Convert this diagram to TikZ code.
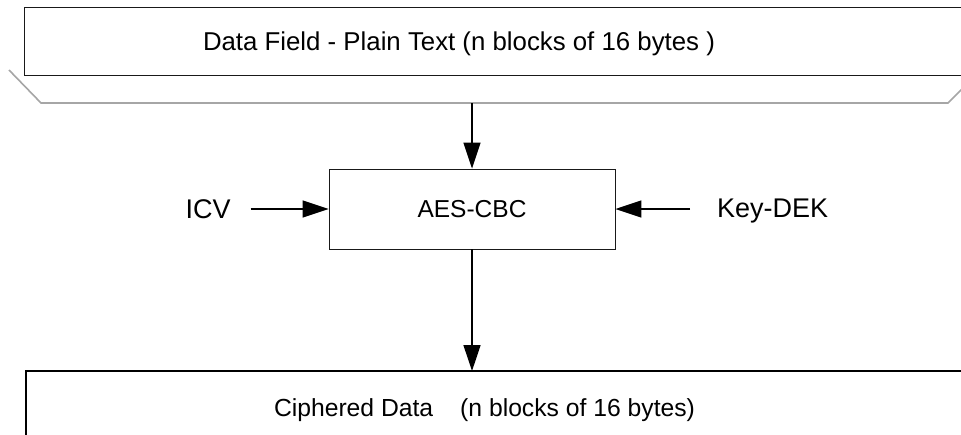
\documentclass[tikz,border=0pt]{standalone}
\usepackage{fontspec}
\setmainfont{Liberation Sans}
\usetikzlibrary{arrows.meta}
\begin{document}
\begin{tikzpicture}[x=1pt,y=-1pt,
  lbl/.style={inner sep=0pt, outer sep=0pt},
  arr/.style={line width=1.3pt, -{Triangle[length=26pt,width=17pt]}},
  boxline/.style={line width=1pt, draw=black!90},
  shade3d/.style={line width=1.6pt, draw=black!35},
  procbox/.style={draw=black!90, line width=0.9pt, minimum width=286pt, minimum height=80pt, inner sep=0pt}]
\useasboundingbox (0,0) rectangle (961,434);
\clip (0,0) rectangle (961,434);
\fill[white] (0,0) rectangle (961,434);
% top plain-text block
\draw[shade3d] (9,70) -- (41,103) -- (948,103) -- (985,66);
\draw[boxline] (990,7) -- (24,7) -- (24,75) -- (990,75);
\node[lbl, anchor=base west, font=\fontsize{25.8}{30}\selectfont] (dataf) at (203,50) {Data Field - Plain Text (n blocks of 16 bytes )};
\coordinate (topout) at (472,103);
% AES box
\node[procbox, font=\fontsize{24.5}{28}\selectfont] (aes) at (472,209) {AES-CBC};
\node[lbl, anchor=base west, font=\fontsize{27}{30}\selectfont] (icv) at (185.5,218) {ICV};
\node[lbl, anchor=base west, font=\fontsize{27}{30}\selectfont] (key) at (717,217) {Key-DEK};
% bottom block
\draw[line width=1.6pt, draw=black] (26,450) -- (26,371) -- (990,371);
\coordinate (botin) at (472,371);
\node[lbl, anchor=base west, font=\fontsize{24.7}{29}\selectfont] (ciph) at (274,416) {Ciphered Data\hspace{27pt}(n blocks of 16 bytes)};
% connectors
\draw[arr] (topout) -- (aes.north);
\draw[arr] (aes.south) -- (botin);
\draw[arr] ([xshift=20pt]icv.east |- aes.west) -- (aes.west);
\draw[arr] ([xshift=-27pt]key.west |- aes.east) -- (aes.east);
\end{tikzpicture}
\end{document}
